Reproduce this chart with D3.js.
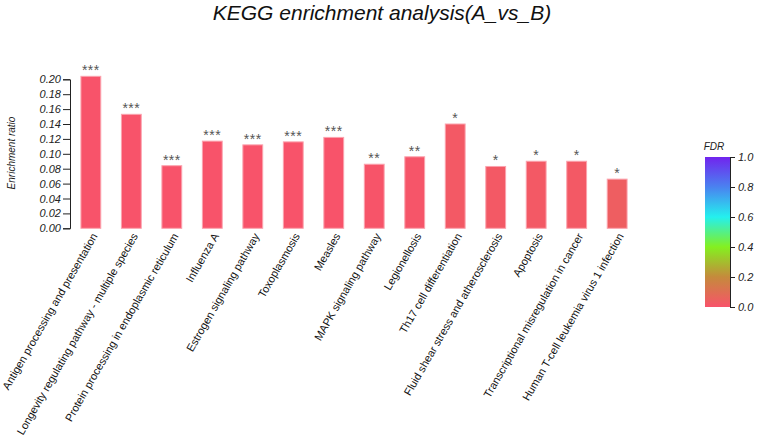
<!DOCTYPE html>
<html>
<head>
<meta charset="utf-8">
<script src="https://cdn.jsdelivr.net/npm/d3@7"></script>
<style>
  body { margin: 0; background: #fff; }
  svg { font-family: "Liberation Sans", Arial, sans-serif; }
</style>
</head>
<body>
<svg id="chart"></svg>
<script>
// pathways, enrichment ratio, FDR and stars
const pathways = [
  'Antigen processing and presentation',
  'Longevity regulating pathway - multiple species',
  'Protein processing in endoplasmic reticulum',
  'Influenza A',
  'Estrogen signaling pathway',
  'Toxoplasmosis',
  'Measles',
  'MAPK signaling pathway',
  'Legionellosis',
  'Th17 cell differentiation',
  'Fluid shear stress and atherosclerosis',
  'Apoptosis',
  'Transcriptional misregulation in cancer',
  'Human T-cell leukemia virus 1 infection'
];
const ratios = [0.204, 0.153, 0.084, 0.117, 0.112, 0.116, 0.122, 0.086, 0.096, 0.140, 0.083, 0.090, 0.090, 0.066];
const fdrs = [0.0005, 0.0008, 0.0009, 0.001, 0.001, 0.001, 0.001, 0.005, 0.006, 0.02, 0.02, 0.02, 0.02, 0.04];
const stars = ['***', '***', '***', '***', '***', '***', '***', '**', '**', '*', '*', '*', '*', '*'];
const yTicks = [0, 0.02, 0.04, 0.06, 0.08, 0.10, 0.12, 0.14, 0.16, 0.18, 0.20];
const fdrTicks = [0, 0.2, 0.4, 0.6, 0.8, 1.0];
const fdrColors = ['#f8536a', '#c58a3c', '#84f020', '#24f0ee', '#4a82f0', '#7124ee'];

const width = 758, height = 445;
const svg = d3.select('#chart')
  .attr('width', width)
  .attr('height', height);

const x = d3.scaleBand()
  .domain(pathways)
  .range([70, 638])
  .paddingInner(0.51)
  .paddingOuter(0.27);

const y = d3.scaleLinear()
  .domain([0, 0.2])
  .range([228.3, 79.3]);

const color = d3.scaleLinear()
  .domain(fdrTicks)
  .range(fdrColors)
  .interpolate(d3.interpolateRgb);

// title
svg.append('text')
  .attr('x', 382)
  .attr('y', 20)
  .attr('text-anchor', 'middle')
  .style('font-size', '21px')
  .style('font-style', 'italic')
  .style('fill', '#111')
  .text('KEGG enrichment analysis(A_vs_B)');

// y axis
const yAxis = svg.append('g')
  .attr('transform', 'translate(70,0)')
  .call(d3.axisLeft(y).tickValues(yTicks).tickFormat(d3.format('.2f')).tickSize(7).tickSizeOuter(7));
yAxis.selectAll('path, line').attr('stroke', '#222');
yAxis.selectAll('text')
  .style('font-size', '11px')
  .style('font-style', 'italic')
  .style('font-family', '"Liberation Sans", Arial, sans-serif')
  .style('fill', '#222')
  .attr('x', -9);

svg.append('text')
  .attr('transform', 'translate(15,153) rotate(-90)')
  .attr('text-anchor', 'middle')
  .style('font-size', '10px')
  .style('font-style', 'italic')
  .style('fill', '#222')
  .text('Enrichment ratio');

// bars
const data = pathways.map((p, i) => ({ name: p, ratio: ratios[i], fdr: fdrs[i], star: stars[i] }));

svg.selectAll('rect.bar')
  .data(data)
  .enter().append('rect')
  .attr('class', 'bar')
  .attr('x', d => x(d.name))
  .attr('width', x.bandwidth())
  .attr('y', d => y(d.ratio))
  .attr('height', d => y(0) - y(d.ratio))
  .attr('fill', d => color(d.fdr))
  .attr('stroke', '#fba3ae')
  .attr('stroke-width', 1);

svg.selectAll('text.star')
  .data(data)
  .enter().append('text')
  .attr('class', 'star')
  .attr('x', d => x(d.name) + x.bandwidth() / 2)
  .attr('y', d => y(d.ratio) - 1)
  .attr('text-anchor', 'middle')
  .style('font-size', '14px')
  .style('letter-spacing', '0.5px')
  .style('fill', '#555')
  .text(d => d.star);

// category labels
svg.selectAll('text.cat')
  .data(data)
  .enter().append('text')
  .attr('class', 'cat')
  .attr('transform', d => `translate(${x(d.name) + x.bandwidth() / 2 + 7},236) rotate(-60)`)
  .attr('text-anchor', 'end')
  .style('font-size', '11px')
  .style('fill', '#111')
  .text(d => d.name);

// colour legend
const defs = svg.append('defs');
const grad = defs.append('linearGradient')
  .attr('id', 'fdrGrad')
  .attr('x1', 0).attr('y1', 1).attr('x2', 0).attr('y2', 0);
fdrTicks.forEach((t, i) => {
  grad.append('stop')
    .attr('offset', t)
    .attr('stop-color', fdrColors[i]);
});

const c = d3.scaleLinear().domain([0, 1]).range([307, 157]);

svg.append('rect')
  .attr('x', 705)
  .attr('y', c(1))
  .attr('width', 25)
  .attr('height', c(0) - c(1))
  .attr('fill', 'url(#fdrGrad)');

const cAxis = svg.append('g')
  .attr('transform', 'translate(730,0)')
  .call(d3.axisRight(c).tickValues(fdrTicks).tickFormat(d3.format('.1f')).tickSize(5).tickSizeOuter(5));
cAxis.selectAll('path, line').attr('stroke', '#222');
cAxis.selectAll('text')
  .style('font-size', '11px')
  .style('font-style', 'italic')
  .style('font-family', '"Liberation Sans", Arial, sans-serif')
  .style('fill', '#222');

svg.append('text')
  .attr('x', 714)
  .attr('y', 150)
  .attr('text-anchor', 'middle')
  .style('font-size', '10px')
  .style('font-style', 'italic')
  .style('fill', '#222')
  .text('FDR');
</script>
</body>
</html>
